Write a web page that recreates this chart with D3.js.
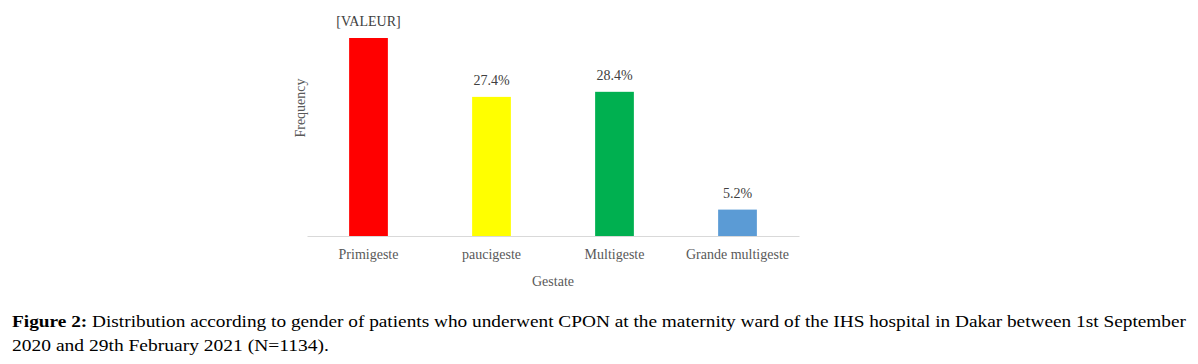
<!DOCTYPE html>
<html>
<head>
<meta charset="utf-8">
<script src="https://cdn.jsdelivr.net/npm/d3@7"></script>
<style>
  body { margin: 0; background: #fff; }
  svg { display: block; }
</style>
</head>
<body>
<svg id="chart" width="1198" height="364"></svg>
<script>
// data
const categories = ["Primigeste", "paucigeste", "Multigeste", "Grande multigeste"];
const values = [39.0, 27.4, 28.4, 5.2];
const valueLabels = ["[VALEUR]", "27.4%", "28.4%", "5.2%"];
const colors = ["#ff0000", "#ffff00", "#00b050", "#5b9bd5"];

const svg = d3.select("#chart");
const serif = "'Liberation Serif', 'DejaVu Serif', serif";

const x = d3.scaleBand()
  .domain(categories)
  .range([307, 799])
  .paddingInner(0.685)
  .paddingOuter(0.3425);

const y = d3.scaleLinear()
  .domain([0, 39.0])
  .range([236, 38]);

// bars
svg.selectAll("rect.bar")
  .data(values)
  .enter().append("rect")
  .attr("class", "bar")
  .attr("x", (d, i) => x(categories[i]))
  .attr("y", d => y(d))
  .attr("width", x.bandwidth())
  .attr("height", d => y(0) - y(d))
  .attr("fill", (d, i) => colors[i]);

// baseline axis
const xAxis = svg.append("g")
  .attr("transform", "translate(0," + y(0) + ")")
  .call(d3.axisBottom(x).tickSize(0).tickPadding(13));
xAxis.select(".domain").attr("stroke", "#d9d9d9").attr("stroke-width", 1);
xAxis.selectAll("text")
  .attr("font-family", serif)
  .attr("font-size", 14)
  .attr("fill", "#595959");

// value labels
svg.selectAll("text.val")
  .data(values)
  .enter().append("text")
  .attr("class", "val")
  .attr("x", (d, i) => x(categories[i]) + x.bandwidth() / 2)
  .attr("y", d => y(d) - 12)
  .attr("text-anchor", "middle")
  .attr("font-family", serif)
  .attr("font-size", 14)
  .attr("fill", "#404040")
  .text((d, i) => valueLabels[i]);

// axis titles
svg.append("text")
  .attr("x", (307 + 799) / 2)
  .attr("y", 286)
  .attr("text-anchor", "middle")
  .attr("font-family", serif)
  .attr("font-size", 14)
  .attr("fill", "#595959")
  .text("Gestate");

svg.append("text")
  .attr("transform", "translate(305,108) rotate(-90)")
  .attr("text-anchor", "middle")
  .attr("font-family", serif)
  .attr("font-size", 14)
  .attr("fill", "#595959")
  .text("Frequency");

// caption
const cap1 = svg.append("text")
  .attr("x", 12)
  .attr("y", 327)
  .attr("font-family", serif)
  .attr("font-size", 17)
  .attr("fill", "#000")
  .attr("textLength", 1174)
  .attr("lengthAdjust", "spacingAndGlyphs");
cap1.append("tspan").attr("font-weight", "bold").text("Figure 2:");
cap1.append("tspan").text(" Distribution according to gender of patients who underwent CPON at the maternity ward of the IHS hospital in Dakar between 1st September");

svg.append("text")
  .attr("x", 12)
  .attr("y", 351)
  .attr("font-family", serif)
  .attr("font-size", 17)
  .attr("fill", "#000")
  .attr("textLength", 317)
  .attr("lengthAdjust", "spacingAndGlyphs")
  .text("2020 and 29th February 2021 (N=1134).");
</script>
</body>
</html>
